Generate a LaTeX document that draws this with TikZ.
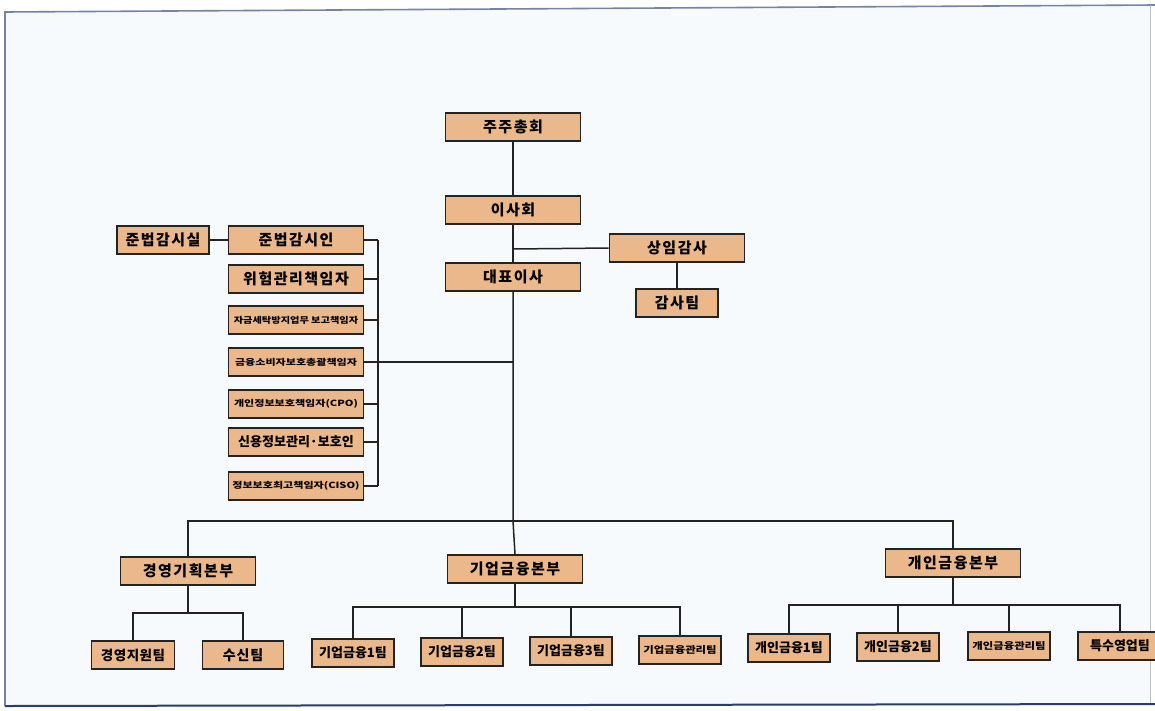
\documentclass[tikz,border=0pt]{standalone}
\usepackage{fontspec}
\setmainfont{Noto Sans CJK KR}
\definecolor{boxfill}{RGB}{234,184,138}
\definecolor{bgcol}{RGB}{247,250,252}
\definecolor{framecol}{RGB}{120,130,165}
\definecolor{botcol}{RGB}{40,60,110}
\definecolor{linecol}{RGB}{35,35,35}
\tikzset{
  orgbox/.style={draw=linecol, line width=1.8pt, fill=boxfill, inner sep=0pt, minimum height=28pt, font=\bfseries\fontsize{15}{15}\selectfont\addfontfeatures{LetterSpace=10}},
  wbig/.style={minimum width=135pt},
  wsmall/.style={minimum width=82pt},
  tiny/.style={font=\bfseries\fontsize{8.5}{9}\selectfont\addfontfeatures{FakeStretch=1.3}},
  tinyn/.style={font=\bfseries\fontsize{8.5}{9}\selectfont\addfontfeatures{FakeStretch=1.2}},
  midf/.style={font=\bfseries\fontsize{13}{13}\selectfont},
  teamf/.style={font=\bfseries\fontsize{13}{13}\selectfont},
  teams/.style={font=\bfseries\fontsize{9.5}{10}\selectfont\addfontfeatures{FakeStretch=1.2}},
  teamb/.style={font=\bfseries\fontsize{14}{14}\selectfont\addfontfeatures{LetterSpace=6}},
  conn/.style={draw=linecol, line width=1.5pt},
}
\begin{document}
\begin{tikzpicture}[x=1pt,y=-1pt]
\useasboundingbox (0,0) rectangle (1155,710);
\fill[white] (0,0) rectangle (1155,710);
\fill[bgcol] (5,12) -- (1150,5) -- (1150,705) -- (5,706) -- cycle;
\draw[framecol, line width=1.6pt] (5,706) -- (5,12) -- (1155,5);
\draw[framecol!50, line width=0.8pt] (1150,5) -- (1150,705);
\draw[botcol, line width=2pt] (5,706) -- (1155,704);

% top
\node[orgbox,wbig] (ju) at (513,127) {주주총회};
\node[orgbox,wbig] (isa) at (513,210) {이사회};
\node[orgbox,wbig] (ceo) at (513,277) {대표이사};
\node[orgbox,wbig] (aud) at (677,248) {상임감사};
\node[orgbox,wsmall] (audt) at (677,303) {감사팀};

% left column
\node[orgbox,minimum width=92pt] (c0) at (163,240) {준법감시실};
\node[orgbox,wbig] (c1) at (296,240) {준법감시인};
\node[orgbox,wbig] (c2) at (296,279) {위험관리책임자};
\node[orgbox,wbig,tinyn] (c3) at (296,320) {자금세탁방지업무 보고책임자};
\node[orgbox,wbig,tiny] (c4) at (296,362) {금융소비자보호총괄책임자};
\node[orgbox,wbig,tiny] (c5) at (296,404) {개인정보보호책임자(CPO)};
\node[orgbox,wbig,midf] (c6) at (296,442) {신용정보관리·보호인};
\node[orgbox,wbig,tiny] (c7) at (296,486) {정보보호최고책임자(CISO)};
\coordinate (brk) at (378,240);

% divisions
\node[orgbox,wbig] (bu1) at (188,571) {경영기획본부};
\node[orgbox,wbig] (bu2) at (515,569) {기업금융본부};
\node[orgbox,wbig] (bu3) at (953,563) {개인금융본부};
\coordinate (bus) at (513,521);

% teams
\node[orgbox,minimum width=83pt,font=\bfseries\fontsize{13.5}{13.5}\selectfont\addfontfeatures{LetterSpace=4}] (t11) at (133,655) {경영지원팀};
\node[orgbox,minimum width=81pt,teamb] (t12) at (243,655) {수신팀};
\node[orgbox,wsmall,teamf] (t21) at (353,653) {기업금융1팀};
\node[orgbox,wsmall,teamf] (t22) at (462,652) {기업금융2팀};
\node[orgbox,wsmall,teamf] (t23) at (571,651) {기업금융3팀};
\node[orgbox,wsmall,teams] (t24) at (680,650) {기업금융관리팀};
\node[orgbox,wsmall,teamf] (t31) at (789,648) {개인금융1팀};
\node[orgbox,wsmall,teamf] (t32) at (898,647) {개인금융2팀};
\node[orgbox,wsmall,teams] (t33) at (1009,646) {개인금융관리팀};
\node[orgbox,minimum width=84pt,font=\bfseries\fontsize{13}{13}\selectfont] (t34) at (1120,646) {특수영업팀};
\coordinate (s1) at (188,613);
\coordinate (s2) at (515,607);
\coordinate (s3) at (953,605);

% connectors
\draw[conn] (ju.south) -- (isa.north);
\draw[conn] (isa.south) -- (ceo.north);
\coordinate (j1) at (513,249);
\draw[conn] (j1) -- (aud.west);
\draw[conn] (aud.south) -- (audt.north);
\draw[conn] (c0.east) -- (c1.west);
\foreach \n in {c1,c2,c3,c4,c5,c6,c7} \draw[conn] (\n.east) -- (\n.east -| brk);
\draw[conn] (brk |- c1) -- (brk |- c7);
\draw[conn] (c4.east) -- (c4.east -| ceo.south);
\draw[conn] (ceo.south) -- (bus) -- (bu2.north);
\draw[conn] (bu1.north) |- (bus) -| (bu3.north);
\draw[conn] (bu1.south) -- (s1);
\draw[conn] (t11.north) |- (s1) -| (t12.north);
\draw[conn] (bu2.south) -- (s2);
\draw[conn] (t21.north) |- (s2) -| (t24.north);
\draw[conn] (t22.north) -- (t22.north |- s2);
\draw[conn] (t23.north) -- (t23.north |- s2);
\draw[conn] (bu3.south) -- (s3);
\draw[conn] (t31.north) |- (s3) -| (t34.north);
\draw[conn] (t32.north) -- (t32.north |- s3);
\draw[conn] (t33.north) -- (t33.north |- s3);
\end{tikzpicture}
\end{document}
